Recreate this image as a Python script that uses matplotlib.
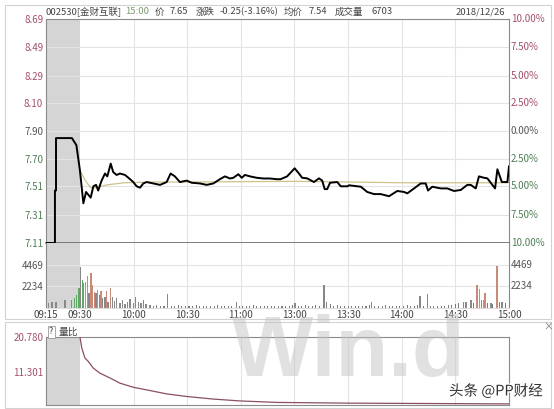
import numpy as np
import matplotlib
matplotlib.use("Agg")
import matplotlib.pyplot as plt
import matplotlib.patheffects as pe
from matplotlib.patches import Rectangle

plt.rcParams['font.family'] = ['Noto Sans CJK SC', 'DejaVu Sans']

W, H = 554, 409

# ---- data (time = minutes after 09:30, pre-market squeezed into -19..0) ----
pre_close = 7.90
price_t = [-19, -14, -14, -13.4, -13.4, -4.5, -2, 0,
           1.9, 3.4, 4.7, 6.0, 7.5, 9.0, 10.2, 12.1, 14.0, 15.3, 17.2, 18.6, 20.5,
           22.4, 25.2, 27.1, 29.8, 31.7, 33.6, 35.4, 37.3, 41.0, 44.8, 48.5, 50.7,
           53.1, 55.9, 59.7, 62.5, 67.1, 70.9, 74.6, 78.3, 81.1, 83.9, 85.8, 88.6,
           90.5, 92.3, 95.1, 98.9, 102.6, 106.3, 110.1, 112.2, 115.9, 120.1, 122.5,
           124.3, 127.1, 130.9, 133.7, 135.5, 136.9, 138.3, 139.9, 143.9, 145.9,
           149.6, 150.5, 157.1, 160.7, 164.5, 168.2, 172.9, 177.5, 181.3, 183.1,
           186.9, 190.6, 193.4, 194.7, 197.1, 201.8, 205.5, 209.2, 213.0, 216.7,
           218.6, 221.4, 223.2, 226.0, 227.9, 232.2, 233.5, 236.0, 239.1, 240]
price = [7.11, 7.11, 7.48, 7.48, 7.85, 7.85, 7.80, 7.62,
         7.39, 7.47, 7.45, 7.43, 7.51, 7.52, 7.48, 7.55, 7.60, 7.58, 7.67, 7.61, 7.59,
         7.60, 7.59, 7.57, 7.54, 7.51, 7.50, 7.53, 7.54, 7.53, 7.52, 7.54, 7.60,
         7.58, 7.54, 7.55, 7.535, 7.53, 7.52, 7.53, 7.56, 7.58, 7.565, 7.57, 7.595,
         7.57, 7.59, 7.58, 7.57, 7.565, 7.565, 7.56, 7.56, 7.58, 7.637, 7.60,
         7.57, 7.566, 7.54, 7.566, 7.55, 7.49, 7.49, 7.535, 7.54, 7.51,
         7.51, 7.517, 7.507, 7.47, 7.455, 7.455, 7.44, 7.477, 7.47, 7.46,
         7.495, 7.53, 7.53, 7.48, 7.507, 7.495, 7.495, 7.477, 7.484, 7.52,
         7.52, 7.495, 7.58, 7.57, 7.566, 7.495, 7.63, 7.54, 7.54, 7.65]

avg_t = [0, 3, 6, 9, 15, 25, 40, 60, 120, 180, 240]
avg_price = [7.62, 7.55, 7.50, 7.50, 7.52, 7.535, 7.54, 7.54, 7.545, 7.535, 7.535]

# notable volume bars: minute, volume, direction (1 up, -1 down, 0 flat)
vol_t = [-17.5, -15.6, -13.4, -8.3, -4.6, -3.2, -1.9, -0.6, 0.4, 1.3, 2.0, 3.0,
         4.1, 5.0, 6.2, 7.1, 8.0, 9.0, 9.9, 10.8, 11.7, 12.7, 14.0, 14.9, 15.8,
         17.2, 18.3, 19.4, 20.5, 22.4, 23.9, 25.2, 26.7, 28.0, 29.8, 31.2, 32.6,
         34.1, 35.4, 36.9, 39.2, 48.9, 87.6, 120.3, 136.5, 138.0, 163.2, 190.2,
         194.5, 214.5, 216.0, 218.7, 222.1, 223.4, 224.7, 225.6, 226.6, 229.9,
         233.3, 234.6, 236.0]
vol = [520, 600, 620, 800, 800, 980, 1330, 2040, 4340, 2930, 2570, 2745,
       3350, 1510, 3640, 2390, 1680, 1510, 1860, 1330, 1790, 980, 1085, 1790, 620,
       2040, 1150, 720, 980, 450, 800, 340, 620, 870, 450, 1150, 620,
       510, 800, 340, 260, 1450, 620, 510, 2390, 620, 620, 1220,
       1440, 620, 560, 800, 2390, 1940, 800, 800, 1575, 510,
       4415, 620, 620]
vol_dir = [0, 0, 0, 0, 0, -1, -1, -1, 0, -1, -1, 1,
           1, 0, 1, 1, 1, 0, 1, 0, 1, 0, 0, 1, 0,
           1, 0, 0, 0, 0, 0, 0, 0, 0, 0, 0, 0,
           0, 0, 0, 0, 0, 0, 0, 0, 0, 0, 0,
           0, 0, 0, 0, 1, 1, 0, 1, 1, 0,
           1, 0, 0]
# background trickle of small bars
small_t = [41, 43, 45, 47, 51, 53, 55, 57, 59, 61, 63, 65, 67, 69, 71, 73, 75, 77,
           79, 81, 83, 85, 89, 91, 93, 95, 97, 99, 101, 103, 105, 107, 109, 111,
           113, 115, 117, 119, 122, 124, 126, 128, 130, 132, 134, 140, 142, 144,
           146, 148, 150, 152, 154, 156, 158, 160, 162, 165, 167, 169, 171, 173,
           175, 177, 179, 181, 183, 185, 187, 189, 192, 196, 198, 200, 202, 204,
           206, 208, 210, 212, 220, 228, 231, 238]
small_vol = [180, 250, 140, 210, 160, 120, 230, 150, 110, 190, 140, 260, 120, 170,
             200, 110, 150, 230, 130, 180, 120, 160, 210, 140, 110, 170, 240, 130,
             150, 110, 200, 160, 120, 180, 140, 210, 110, 300, 170, 130, 220, 150,
             120, 260, 140, 320, 180, 240, 120, 150, 200, 110, 170, 130, 150, 210,
             290, 140, 180, 120, 260, 150, 130, 190, 140, 120, 220, 170, 130, 240,
             180, 150, 200, 120, 160, 140, 230, 300, 380, 450, 520, 430, 380, 460]

ratio_t = [0, 1, 2.8, 4.6, 7.4, 11.2, 16.8, 22.4, 29.8, 39.2, 48.5, 59.7, 74.6,
           89.5, 110, 151, 196, 240]
ratio = [20.78, 17.8, 15.1, 14.2, 12.4, 11.0, 9.7, 8.3, 7.2, 6.3, 5.4, 4.7, 4.0,
         3.5, 3.1, 2.9, 2.8, 2.7]

time_ticks = [-19, 0, 30, 60, 90, 120, 150, 180, 210, 240]
time_labels = ["09:15", "09:30", "10:00", "10:30", "11:00", "13:00", "13:30",
               "14:00", "14:30", "15:00"]
price_ticks = [7.11, 7.31, 7.51, 7.70, 7.90, 8.10, 8.29, 8.49, 8.69]
pct_labels = ["10.00%", "7.50%", "5.00%", "2.50%", "0.00%", "2.50%", "5.00%",
              "7.50%", "10.00%"]
vol_ticks = [2234, 4469]
ratio_ticks = [11.301, 20.780]

RED = "#a2506c"
GREEN = "#4f7f55"
GRAY_TXT = "#555555"
GRID = "#e4e4e4"
SHADE = "#d5d5d5"
FRAME = "#8a8a8a"


def px_axes(l, t, r, b):
    return fig.add_axes([l / W, 1 - b / H, (r - l) / W, (b - t) / H])


fig = plt.figure(figsize=(W / 100, H / 100), dpi=100)

# outer light frames
for (l, t, r, b) in [(5, 5, 551, 319), (5, 322, 551, 408)]:
    fig.add_artist(Rectangle((l / W, 1 - b / H), (r - l) / W, (b - t) / H,
                             transform=fig.transFigure, fill=False,
                             edgecolor="#d2d2d2", linewidth=0.8))

ax_p = px_axes(46, 19, 509, 243)
ax_v = px_axes(46, 243, 509, 307.5)
ax_r = px_axes(46, 337, 509, 405)

for ax in (ax_p, ax_v, ax_r):
    ax.set_xlim(-19, 240)
    ax.axvspan(-19, 0, color=SHADE, zorder=0, lw=0)
    for t in time_ticks[2:-1]:
        ax.axvline(t, color=GRID, lw=0.8, zorder=0.5)
    ax.tick_params(length=0, labelsize=7, pad=2)
    for s in ax.spines.values():
        s.set_color(FRAME)
        s.set_linewidth(0.8)

# price panel
ax_p.set_ylim(7.11, 8.69)
for v in price_ticks[1:-1]:
    ax_p.axhline(v, color=GRID, lw=0.8, zorder=0.5)
ax_p.plot(avg_t, avg_price, color="#cfc28c", lw=0.9, zorder=2)
ax_p.plot(price_t, price, color="black", lw=1.4, zorder=3)
ax_p.set_yticks(price_ticks)
ax_p.set_yticklabels([f"{v:.2f}" for v in price_ticks])
for v, lab in zip(price_ticks, ax_p.get_yticklabels()):
    lab.set_color(RED if v > pre_close else (GREEN if v < pre_close else GRAY_TXT))
for v, txt in zip(price_ticks, pct_labels):
    c = RED if v > pre_close else (GREEN if v < pre_close else GRAY_TXT)
    ax_p.text(1.004, (v - 7.11) / (8.69 - 7.11), txt, transform=ax_p.transAxes,
              fontsize=7, color=c, va="center", ha="left")
ax_p.set_xticks([])
ax_p.spines["bottom"].set_color("#666666")
ax_p.spines["bottom"].set_linewidth(1.2)

# volume panel
ax_v.set_ylim(0, 6860)
for v in vol_ticks:
    ax_v.axhline(v, color=GRID, lw=0.8, zorder=0.5)
ax_v.bar(small_t, small_vol, width=0.6, color="#7a7a7a", zorder=2, lw=0)
bar_cols = ["#c98a7c" if d > 0 else ("#5fa866" if d < 0 else "#888888") for d in vol_dir]
ax_v.bar(vol_t, vol, width=0.8, color=bar_cols, zorder=2, lw=0)
ax_v.set_yticks(vol_ticks)
ax_v.set_yticklabels([str(v) for v in vol_ticks], color=GRAY_TXT)
for v in vol_ticks:
    ax_v.text(1.004, v / 6860, str(v), transform=ax_v.transAxes, fontsize=7,
              color=GRAY_TXT, va="center", ha="left")
ax_v.set_xticks(time_ticks)
ax_v.set_xticklabels(time_labels, color="#444444")
ax_v.spines["top"].set_visible(False)
ax_v.spines["bottom"].set_color("#dddddd")

# volume ratio panel
ax_r.set_ylim(2.4, 20.78)
ax_r.plot(ratio_t, ratio, color="#8a5060", lw=0.9, zorder=3)
ax_r.set_yticks(ratio_ticks)
ax_r.set_yticklabels([f"{v:.3f}" for v in ratio_ticks], color=RED)
ax_r.set_xticks([])

# header
hy = 1 - 12 / H
for x, s, c in [(46, "002530[金财互联]", "#444444"), (125, "15:00", "#7a9a70"),
                (155, "价", "#444444"), (170, "7.65", "#444444"),
                (196, "涨跌", "#444444"), (220, "-0.25(-3.16%)", "#444444"),
                (284, "均价", "#444444"), (309, "7.54", "#444444"),
                (335, "成交量", "#444444"), (371, "6703", "#444444"),
                (456, "2018/12/26", "#444444")]:
    fig.text(x / W, hy, s, fontsize=6.8, color=c, va="center", ha="left")

fig.text(49 / W, 1 - 332 / H, "?", fontsize=6.5, color="#444444", va="center",
         ha="left", bbox=dict(boxstyle="square,pad=0.15", fc="white", ec="#999999", lw=0.6))
fig.text(59 / W, 1 - 332 / H, "量比", fontsize=7, color="#444444", va="center", ha="left")
fig.text(548 / W, 1 - 327 / H, "×", fontsize=7, color="#777777", va="center", ha="center")

# watermarks
fig.text(349 / W, 1 - 354 / H, "Win.d", fontsize=62, fontweight="bold",
         family="Liberation Sans", color="#c4c4c4", alpha=0.5, ha="center", va="center")
fig.text(496 / W, 1 - 391 / H, "头条 @PP财经", fontsize=10.5, color="#333333",
         ha="center", va="center",
         path_effects=[pe.withStroke(linewidth=2, foreground="white")])

fig.savefig("out.png", dpi=100)
